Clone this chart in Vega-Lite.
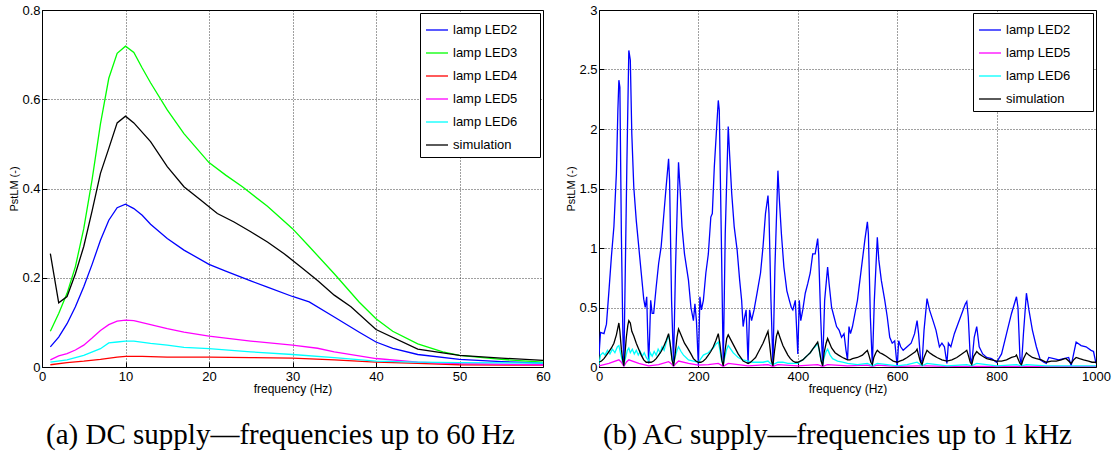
{
  "$schema": "https://vega.github.io/schema/vega-lite/v6.json",
  "background": "white",
  "padding": {"left": 8, "top": 3, "right": 6, "bottom": 2},
  "spacing": 56,
  "bounds": "flush",
  "config": {
    "view": {"stroke": "#000", "strokeWidth": 1},
    "axis": {"domain": false, "grid": true, "gridColor": "#000", "gridDash": [1, 2], "gridOpacity": 0.75, "tickColor": "#000", "tickSize": -5, "labelFont": "Liberation Sans", "labelFontSize": 13, "labelColor": "#000", "titleFont": "Liberation Sans", "titleFontWeight": "normal", "titleColor": "#000", "labelExpr": "'' + datum.value"},
    "axisX": {"labelPadding": 8, "titlePadding": 0, "titleFontSize": 12, "labelFlush": false},
    "axisY": {"labelPadding": 7, "titlePadding": 2, "titleFontSize": 11},
    "legend": {"orient": "top-right", "offset": 3, "strokeColor": "#000", "fillColor": "#fff", "padding": 5, "symbolType": "stroke", "symbolStrokeWidth": 1.5, "symbolSize": 484, "labelFont": "Liberation Sans", "labelFontSize": 13, "labelColor": "#000", "rowPadding": 4, "labelOffset": 4, "titleOrient": "right", "titleFontSize": 9, "titlePadding": 3, "titleOpacity": 0},
    "title": {"font": "Liberation Serif", "fontSize": 29, "fontWeight": "normal", "orient": "bottom", "offset": 27, "color": "#000"},
    "line": {"strokeWidth": 1.3}
  },
  "datasets": {
    "dc": [
      {"s": "lamp LED2", "f": 1, "v": 0.045}, {"s": "lamp LED2", "f": 2, "v": 0.067}, {"s": "lamp LED2", "f": 3, "v": 0.097}, {"s": "lamp LED2", "f": 4, "v": 0.135}, {"s": "lamp LED2", "f": 5, "v": 0.18}, {"s": "lamp LED2", "f": 6, "v": 0.23}, {"s": "lamp LED2", "f": 7, "v": 0.284}, {"s": "lamp LED2", "f": 8, "v": 0.329}, {"s": "lamp LED2", "f": 9, "v": 0.357}, {"s": "lamp LED2", "f": 10, "v": 0.365}, {"s": "lamp LED2", "f": 11, "v": 0.355}, {"s": "lamp LED2", "f": 12, "v": 0.34}, {"s": "lamp LED2", "f": 13, "v": 0.32}, {"s": "lamp LED2", "f": 15, "v": 0.288}, {"s": "lamp LED2", "f": 17, "v": 0.262}, {"s": "lamp LED2", "f": 20, "v": 0.23}, {"s": "lamp LED2", "f": 22, "v": 0.215}, {"s": "lamp LED2", "f": 25, "v": 0.193}, {"s": "lamp LED2", "f": 27, "v": 0.179}, {"s": "lamp LED2", "f": 30, "v": 0.158}, {"s": "lamp LED2", "f": 32, "v": 0.146}, {"s": "lamp LED2", "f": 35, "v": 0.112}, {"s": "lamp LED2", "f": 38, "v": 0.078}, {"s": "lamp LED2", "f": 40, "v": 0.056}, {"s": "lamp LED2", "f": 42, "v": 0.042}, {"s": "lamp LED2", "f": 45, "v": 0.028}, {"s": "lamp LED2", "f": 50, "v": 0.017}, {"s": "lamp LED2", "f": 55, "v": 0.012}, {"s": "lamp LED2", "f": 60, "v": 0.009},
      {"s": "lamp LED3", "f": 1, "v": 0.08}, {"s": "lamp LED3", "f": 2, "v": 0.12}, {"s": "lamp LED3", "f": 3, "v": 0.165}, {"s": "lamp LED3", "f": 4, "v": 0.225}, {"s": "lamp LED3", "f": 5, "v": 0.31}, {"s": "lamp LED3", "f": 6, "v": 0.42}, {"s": "lamp LED3", "f": 7, "v": 0.545}, {"s": "lamp LED3", "f": 8, "v": 0.647}, {"s": "lamp LED3", "f": 9, "v": 0.703}, {"s": "lamp LED3", "f": 10, "v": 0.719}, {"s": "lamp LED3", "f": 11, "v": 0.705}, {"s": "lamp LED3", "f": 12, "v": 0.67}, {"s": "lamp LED3", "f": 13, "v": 0.637}, {"s": "lamp LED3", "f": 15, "v": 0.576}, {"s": "lamp LED3", "f": 17, "v": 0.523}, {"s": "lamp LED3", "f": 20, "v": 0.458}, {"s": "lamp LED3", "f": 22, "v": 0.43}, {"s": "lamp LED3", "f": 24, "v": 0.404}, {"s": "lamp LED3", "f": 27, "v": 0.36}, {"s": "lamp LED3", "f": 30, "v": 0.31}, {"s": "lamp LED3", "f": 32, "v": 0.27}, {"s": "lamp LED3", "f": 35, "v": 0.209}, {"s": "lamp LED3", "f": 38, "v": 0.145}, {"s": "lamp LED3", "f": 40, "v": 0.108}, {"s": "lamp LED3", "f": 42, "v": 0.08}, {"s": "lamp LED3", "f": 45, "v": 0.052}, {"s": "lamp LED3", "f": 48, "v": 0.034}, {"s": "lamp LED3", "f": 50, "v": 0.026}, {"s": "lamp LED3", "f": 55, "v": 0.017}, {"s": "lamp LED3", "f": 60, "v": 0.011},
      {"s": "lamp LED4", "f": 1, "v": 0.005}, {"s": "lamp LED4", "f": 3, "v": 0.01}, {"s": "lamp LED4", "f": 5, "v": 0.013}, {"s": "lamp LED4", "f": 7, "v": 0.017}, {"s": "lamp LED4", "f": 9, "v": 0.022}, {"s": "lamp LED4", "f": 10, "v": 0.024}, {"s": "lamp LED4", "f": 12, "v": 0.024}, {"s": "lamp LED4", "f": 15, "v": 0.022}, {"s": "lamp LED4", "f": 20, "v": 0.022}, {"s": "lamp LED4", "f": 25, "v": 0.021}, {"s": "lamp LED4", "f": 30, "v": 0.02}, {"s": "lamp LED4", "f": 35, "v": 0.016}, {"s": "lamp LED4", "f": 40, "v": 0.011}, {"s": "lamp LED4", "f": 45, "v": 0.008}, {"s": "lamp LED4", "f": 50, "v": 0.005}, {"s": "lamp LED4", "f": 60, "v": 0.004},
      {"s": "lamp LED5", "f": 1, "v": 0.016}, {"s": "lamp LED5", "f": 2, "v": 0.025}, {"s": "lamp LED5", "f": 3, "v": 0.03}, {"s": "lamp LED5", "f": 4, "v": 0.038}, {"s": "lamp LED5", "f": 5, "v": 0.049}, {"s": "lamp LED5", "f": 6, "v": 0.065}, {"s": "lamp LED5", "f": 7, "v": 0.082}, {"s": "lamp LED5", "f": 8, "v": 0.095}, {"s": "lamp LED5", "f": 9, "v": 0.103}, {"s": "lamp LED5", "f": 10, "v": 0.105}, {"s": "lamp LED5", "f": 11, "v": 0.104}, {"s": "lamp LED5", "f": 13, "v": 0.095}, {"s": "lamp LED5", "f": 15, "v": 0.086}, {"s": "lamp LED5", "f": 17, "v": 0.078}, {"s": "lamp LED5", "f": 20, "v": 0.069}, {"s": "lamp LED5", "f": 25, "v": 0.058}, {"s": "lamp LED5", "f": 30, "v": 0.049}, {"s": "lamp LED5", "f": 33, "v": 0.042}, {"s": "lamp LED5", "f": 35, "v": 0.034}, {"s": "lamp LED5", "f": 40, "v": 0.019}, {"s": "lamp LED5", "f": 45, "v": 0.011}, {"s": "lamp LED5", "f": 50, "v": 0.0075}, {"s": "lamp LED5", "f": 60, "v": 0.005},
      {"s": "lamp LED6", "f": 1, "v": 0.011}, {"s": "lamp LED6", "f": 3, "v": 0.016}, {"s": "lamp LED6", "f": 5, "v": 0.026}, {"s": "lamp LED6", "f": 7, "v": 0.041}, {"s": "lamp LED6", "f": 8, "v": 0.054}, {"s": "lamp LED6", "f": 9, "v": 0.056}, {"s": "lamp LED6", "f": 10, "v": 0.058}, {"s": "lamp LED6", "f": 11, "v": 0.058}, {"s": "lamp LED6", "f": 13, "v": 0.053}, {"s": "lamp LED6", "f": 15, "v": 0.049}, {"s": "lamp LED6", "f": 17, "v": 0.044}, {"s": "lamp LED6", "f": 20, "v": 0.041}, {"s": "lamp LED6", "f": 25, "v": 0.034}, {"s": "lamp LED6", "f": 30, "v": 0.028}, {"s": "lamp LED6", "f": 35, "v": 0.021}, {"s": "lamp LED6", "f": 40, "v": 0.013}, {"s": "lamp LED6", "f": 45, "v": 0.011}, {"s": "lamp LED6", "f": 50, "v": 0.01}, {"s": "lamp LED6", "f": 60, "v": 0.009},
      {"s": "simulation", "f": 1, "v": 0.254}, {"s": "simulation", "f": 2, "v": 0.144}, {"s": "simulation", "f": 3, "v": 0.158}, {"s": "simulation", "f": 4, "v": 0.209}, {"s": "simulation", "f": 5, "v": 0.27}, {"s": "simulation", "f": 6, "v": 0.35}, {"s": "simulation", "f": 7, "v": 0.434}, {"s": "simulation", "f": 8, "v": 0.49}, {"s": "simulation", "f": 9, "v": 0.547}, {"s": "simulation", "f": 10, "v": 0.562}, {"s": "simulation", "f": 11, "v": 0.547}, {"s": "simulation", "f": 13, "v": 0.505}, {"s": "simulation", "f": 15, "v": 0.449}, {"s": "simulation", "f": 17, "v": 0.404}, {"s": "simulation", "f": 19, "v": 0.374}, {"s": "simulation", "f": 21, "v": 0.344}, {"s": "simulation", "f": 23, "v": 0.325}, {"s": "simulation", "f": 25, "v": 0.303}, {"s": "simulation", "f": 27, "v": 0.28}, {"s": "simulation", "f": 29, "v": 0.254}, {"s": "simulation", "f": 31, "v": 0.224}, {"s": "simulation", "f": 33, "v": 0.194}, {"s": "simulation", "f": 35, "v": 0.161}, {"s": "simulation", "f": 37, "v": 0.135}, {"s": "simulation", "f": 40, "v": 0.084}, {"s": "simulation", "f": 45, "v": 0.04}, {"s": "simulation", "f": 50, "v": 0.026}, {"s": "simulation", "f": 55, "v": 0.02}, {"s": "simulation", "f": 60, "v": 0.015}
    ],
    "ac": [
      {"s": "lamp LED2", "f": 0, "v": 0.1}, {"s": "lamp LED2", "f": 3, "v": 0.29}, {"s": "lamp LED2", "f": 10, "v": 0.28}, {"s": "lamp LED2", "f": 15, "v": 0.36}, {"s": "lamp LED2", "f": 20, "v": 0.64}, {"s": "lamp LED2", "f": 25, "v": 0.93}, {"s": "lamp LED2", "f": 30, "v": 1.18}, {"s": "lamp LED2", "f": 35, "v": 1.63}, {"s": "lamp LED2", "f": 38, "v": 2.16}, {"s": "lamp LED2", "f": 40, "v": 2.41}, {"s": "lamp LED2", "f": 42, "v": 2.35}, {"s": "lamp LED2", "f": 45, "v": 1.12}, {"s": "lamp LED2", "f": 48, "v": 0.28}, {"s": "lamp LED2", "f": 50, "v": 0.03}, {"s": "lamp LED2", "f": 52, "v": 0.56}, {"s": "lamp LED2", "f": 56, "v": 1.68}, {"s": "lamp LED2", "f": 60, "v": 2.66}, {"s": "lamp LED2", "f": 63, "v": 2.58}, {"s": "lamp LED2", "f": 66, "v": 1.96}, {"s": "lamp LED2", "f": 70, "v": 1.51}, {"s": "lamp LED2", "f": 75, "v": 1.23}, {"s": "lamp LED2", "f": 80, "v": 1.01}, {"s": "lamp LED2", "f": 85, "v": 0.79}, {"s": "lamp LED2", "f": 90, "v": 0.57}, {"s": "lamp LED2", "f": 93, "v": 0.5}, {"s": "lamp LED2", "f": 96, "v": 0.59}, {"s": "lamp LED2", "f": 98, "v": 0.28}, {"s": "lamp LED2", "f": 100, "v": 0.03}, {"s": "lamp LED2", "f": 102, "v": 0.28}, {"s": "lamp LED2", "f": 104, "v": 0.56}, {"s": "lamp LED2", "f": 107, "v": 0.45}, {"s": "lamp LED2", "f": 110, "v": 0.45}, {"s": "lamp LED2", "f": 115, "v": 0.67}, {"s": "lamp LED2", "f": 120, "v": 0.87}, {"s": "lamp LED2", "f": 125, "v": 1.01}, {"s": "lamp LED2", "f": 130, "v": 1.26}, {"s": "lamp LED2", "f": 135, "v": 1.51}, {"s": "lamp LED2", "f": 140, "v": 1.75}, {"s": "lamp LED2", "f": 142, "v": 1.57}, {"s": "lamp LED2", "f": 146, "v": 0.56}, {"s": "lamp LED2", "f": 150, "v": 0.03}, {"s": "lamp LED2", "f": 154, "v": 0.84}, {"s": "lamp LED2", "f": 160, "v": 1.72}, {"s": "lamp LED2", "f": 163, "v": 1.51}, {"s": "lamp LED2", "f": 167, "v": 1.18}, {"s": "lamp LED2", "f": 172, "v": 0.95}, {"s": "lamp LED2", "f": 180, "v": 0.73}, {"s": "lamp LED2", "f": 185, "v": 0.5}, {"s": "lamp LED2", "f": 190, "v": 0.39}, {"s": "lamp LED2", "f": 193, "v": 0.53}, {"s": "lamp LED2", "f": 196, "v": 0.39}, {"s": "lamp LED2", "f": 200, "v": 0.01}, {"s": "lamp LED2", "f": 203, "v": 0.59}, {"s": "lamp LED2", "f": 206, "v": 0.48}, {"s": "lamp LED2", "f": 210, "v": 0.56}, {"s": "lamp LED2", "f": 215, "v": 0.79}, {"s": "lamp LED2", "f": 220, "v": 0.95}, {"s": "lamp LED2", "f": 225, "v": 1.26}, {"s": "lamp LED2", "f": 228, "v": 1.29}, {"s": "lamp LED2", "f": 232, "v": 1.68}, {"s": "lamp LED2", "f": 236, "v": 1.96}, {"s": "lamp LED2", "f": 240, "v": 2.24}, {"s": "lamp LED2", "f": 242, "v": 2.16}, {"s": "lamp LED2", "f": 246, "v": 1.12}, {"s": "lamp LED2", "f": 250, "v": 0.01}, {"s": "lamp LED2", "f": 254, "v": 1.12}, {"s": "lamp LED2", "f": 260, "v": 2.02}, {"s": "lamp LED2", "f": 263, "v": 1.77}, {"s": "lamp LED2", "f": 267, "v": 1.46}, {"s": "lamp LED2", "f": 272, "v": 1.18}, {"s": "lamp LED2", "f": 278, "v": 0.98}, {"s": "lamp LED2", "f": 283, "v": 0.73}, {"s": "lamp LED2", "f": 287, "v": 0.56}, {"s": "lamp LED2", "f": 290, "v": 0.34}, {"s": "lamp LED2", "f": 293, "v": 0.42}, {"s": "lamp LED2", "f": 296, "v": 0.48}, {"s": "lamp LED2", "f": 300, "v": 0.03}, {"s": "lamp LED2", "f": 303, "v": 0.48}, {"s": "lamp LED2", "f": 307, "v": 0.39}, {"s": "lamp LED2", "f": 312, "v": 0.48}, {"s": "lamp LED2", "f": 318, "v": 0.62}, {"s": "lamp LED2", "f": 325, "v": 0.79}, {"s": "lamp LED2", "f": 330, "v": 1.01}, {"s": "lamp LED2", "f": 335, "v": 1.29}, {"s": "lamp LED2", "f": 340, "v": 1.44}, {"s": "lamp LED2", "f": 342, "v": 1.29}, {"s": "lamp LED2", "f": 346, "v": 0.56}, {"s": "lamp LED2", "f": 350, "v": 0.01}, {"s": "lamp LED2", "f": 354, "v": 0.84}, {"s": "lamp LED2", "f": 360, "v": 1.65}, {"s": "lamp LED2", "f": 363, "v": 1.4}, {"s": "lamp LED2", "f": 367, "v": 1.12}, {"s": "lamp LED2", "f": 372, "v": 0.84}, {"s": "lamp LED2", "f": 378, "v": 0.64}, {"s": "lamp LED2", "f": 383, "v": 0.56}, {"s": "lamp LED2", "f": 387, "v": 0.5}, {"s": "lamp LED2", "f": 390, "v": 0.48}, {"s": "lamp LED2", "f": 395, "v": 0.56}, {"s": "lamp LED2", "f": 400, "v": 0.11}, {"s": "lamp LED2", "f": 403, "v": 0.56}, {"s": "lamp LED2", "f": 406, "v": 0.39}, {"s": "lamp LED2", "f": 410, "v": 0.48}, {"s": "lamp LED2", "f": 415, "v": 0.62}, {"s": "lamp LED2", "f": 420, "v": 0.7}, {"s": "lamp LED2", "f": 425, "v": 0.79}, {"s": "lamp LED2", "f": 430, "v": 0.95}, {"s": "lamp LED2", "f": 435, "v": 0.95}, {"s": "lamp LED2", "f": 440, "v": 1.08}, {"s": "lamp LED2", "f": 442, "v": 0.95}, {"s": "lamp LED2", "f": 446, "v": 0.42}, {"s": "lamp LED2", "f": 450, "v": 0.01}, {"s": "lamp LED2", "f": 454, "v": 0.56}, {"s": "lamp LED2", "f": 460, "v": 0.84}, {"s": "lamp LED2", "f": 463, "v": 0.7}, {"s": "lamp LED2", "f": 468, "v": 0.5}, {"s": "lamp LED2", "f": 473, "v": 0.42}, {"s": "lamp LED2", "f": 478, "v": 0.34}, {"s": "lamp LED2", "f": 483, "v": 0.31}, {"s": "lamp LED2", "f": 488, "v": 0.25}, {"s": "lamp LED2", "f": 493, "v": 0.28}, {"s": "lamp LED2", "f": 497, "v": 0.14}, {"s": "lamp LED2", "f": 500, "v": 0.06}, {"s": "lamp LED2", "f": 503, "v": 0.34}, {"s": "lamp LED2", "f": 506, "v": 0.28}, {"s": "lamp LED2", "f": 510, "v": 0.34}, {"s": "lamp LED2", "f": 515, "v": 0.45}, {"s": "lamp LED2", "f": 520, "v": 0.56}, {"s": "lamp LED2", "f": 525, "v": 0.73}, {"s": "lamp LED2", "f": 530, "v": 0.9}, {"s": "lamp LED2", "f": 535, "v": 1.07}, {"s": "lamp LED2", "f": 540, "v": 1.22}, {"s": "lamp LED2", "f": 542, "v": 1.12}, {"s": "lamp LED2", "f": 546, "v": 0.42}, {"s": "lamp LED2", "f": 550, "v": 0.01}, {"s": "lamp LED2", "f": 554, "v": 0.56}, {"s": "lamp LED2", "f": 560, "v": 1.09}, {"s": "lamp LED2", "f": 563, "v": 0.9}, {"s": "lamp LED2", "f": 568, "v": 0.73}, {"s": "lamp LED2", "f": 575, "v": 0.56}, {"s": "lamp LED2", "f": 580, "v": 0.42}, {"s": "lamp LED2", "f": 585, "v": 0.25}, {"s": "lamp LED2", "f": 590, "v": 0.2}, {"s": "lamp LED2", "f": 595, "v": 0.22}, {"s": "lamp LED2", "f": 600, "v": 0.0}, {"s": "lamp LED2", "f": 603, "v": 0.22}, {"s": "lamp LED2", "f": 607, "v": 0.17}, {"s": "lamp LED2", "f": 612, "v": 0.14}, {"s": "lamp LED2", "f": 620, "v": 0.17}, {"s": "lamp LED2", "f": 628, "v": 0.2}, {"s": "lamp LED2", "f": 635, "v": 0.28}, {"s": "lamp LED2", "f": 640, "v": 0.39}, {"s": "lamp LED2", "f": 643, "v": 0.28}, {"s": "lamp LED2", "f": 647, "v": 0.06}, {"s": "lamp LED2", "f": 650, "v": 0.03}, {"s": "lamp LED2", "f": 654, "v": 0.31}, {"s": "lamp LED2", "f": 660, "v": 0.575}, {"s": "lamp LED2", "f": 665, "v": 0.48}, {"s": "lamp LED2", "f": 672, "v": 0.39}, {"s": "lamp LED2", "f": 678, "v": 0.31}, {"s": "lamp LED2", "f": 685, "v": 0.17}, {"s": "lamp LED2", "f": 690, "v": 0.2}, {"s": "lamp LED2", "f": 695, "v": 0.17}, {"s": "lamp LED2", "f": 700, "v": 0.03}, {"s": "lamp LED2", "f": 703, "v": 0.2}, {"s": "lamp LED2", "f": 708, "v": 0.17}, {"s": "lamp LED2", "f": 715, "v": 0.28}, {"s": "lamp LED2", "f": 722, "v": 0.36}, {"s": "lamp LED2", "f": 730, "v": 0.45}, {"s": "lamp LED2", "f": 737, "v": 0.53}, {"s": "lamp LED2", "f": 740, "v": 0.55}, {"s": "lamp LED2", "f": 743, "v": 0.42}, {"s": "lamp LED2", "f": 747, "v": 0.08}, {"s": "lamp LED2", "f": 750, "v": 0.03}, {"s": "lamp LED2", "f": 755, "v": 0.25}, {"s": "lamp LED2", "f": 760, "v": 0.34}, {"s": "lamp LED2", "f": 765, "v": 0.17}, {"s": "lamp LED2", "f": 772, "v": 0.11}, {"s": "lamp LED2", "f": 780, "v": 0.08}, {"s": "lamp LED2", "f": 790, "v": 0.07}, {"s": "lamp LED2", "f": 800, "v": 0.04}, {"s": "lamp LED2", "f": 810, "v": 0.11}, {"s": "lamp LED2", "f": 820, "v": 0.28}, {"s": "lamp LED2", "f": 830, "v": 0.45}, {"s": "lamp LED2", "f": 840, "v": 0.59}, {"s": "lamp LED2", "f": 843, "v": 0.5}, {"s": "lamp LED2", "f": 847, "v": 0.08}, {"s": "lamp LED2", "f": 850, "v": 0.01}, {"s": "lamp LED2", "f": 854, "v": 0.28}, {"s": "lamp LED2", "f": 860, "v": 0.62}, {"s": "lamp LED2", "f": 865, "v": 0.48}, {"s": "lamp LED2", "f": 872, "v": 0.31}, {"s": "lamp LED2", "f": 880, "v": 0.17}, {"s": "lamp LED2", "f": 888, "v": 0.06}, {"s": "lamp LED2", "f": 895, "v": 0.04}, {"s": "lamp LED2", "f": 900, "v": 0.03}, {"s": "lamp LED2", "f": 905, "v": 0.08}, {"s": "lamp LED2", "f": 915, "v": 0.07}, {"s": "lamp LED2", "f": 925, "v": 0.06}, {"s": "lamp LED2", "f": 935, "v": 0.07}, {"s": "lamp LED2", "f": 945, "v": 0.08}, {"s": "lamp LED2", "f": 950, "v": 0.01}, {"s": "lamp LED2", "f": 955, "v": 0.11}, {"s": "lamp LED2", "f": 960, "v": 0.21}, {"s": "lamp LED2", "f": 970, "v": 0.18}, {"s": "lamp LED2", "f": 980, "v": 0.17}, {"s": "lamp LED2", "f": 990, "v": 0.14}, {"s": "lamp LED2", "f": 995, "v": 0.13}, {"s": "lamp LED2", "f": 1000, "v": 0.03},
      {"s": "lamp LED5", "f": 0, "v": 0.01}, {"s": "lamp LED5", "f": 20, "v": 0.03}, {"s": "lamp LED5", "f": 40, "v": 0.06}, {"s": "lamp LED5", "f": 45, "v": 0.04}, {"s": "lamp LED5", "f": 50, "v": 0.005}, {"s": "lamp LED5", "f": 55, "v": 0.04}, {"s": "lamp LED5", "f": 60, "v": 0.06}, {"s": "lamp LED5", "f": 80, "v": 0.03}, {"s": "lamp LED5", "f": 100, "v": 0.01}, {"s": "lamp LED5", "f": 120, "v": 0.02}, {"s": "lamp LED5", "f": 140, "v": 0.045}, {"s": "lamp LED5", "f": 145, "v": 0.03}, {"s": "lamp LED5", "f": 150, "v": 0.005}, {"s": "lamp LED5", "f": 155, "v": 0.03}, {"s": "lamp LED5", "f": 160, "v": 0.05}, {"s": "lamp LED5", "f": 180, "v": 0.03}, {"s": "lamp LED5", "f": 200, "v": 0.015}, {"s": "lamp LED5", "f": 220, "v": 0.02}, {"s": "lamp LED5", "f": 240, "v": 0.03}, {"s": "lamp LED5", "f": 250, "v": 0.005}, {"s": "lamp LED5", "f": 260, "v": 0.03}, {"s": "lamp LED5", "f": 280, "v": 0.02}, {"s": "lamp LED5", "f": 300, "v": 0.01}, {"s": "lamp LED5", "f": 340, "v": 0.02}, {"s": "lamp LED5", "f": 350, "v": 0.005}, {"s": "lamp LED5", "f": 360, "v": 0.02}, {"s": "lamp LED5", "f": 400, "v": 0.01}, {"s": "lamp LED5", "f": 440, "v": 0.02}, {"s": "lamp LED5", "f": 450, "v": 0.005}, {"s": "lamp LED5", "f": 460, "v": 0.02}, {"s": "lamp LED5", "f": 500, "v": 0.01}, {"s": "lamp LED5", "f": 540, "v": 0.015}, {"s": "lamp LED5", "f": 550, "v": 0.005}, {"s": "lamp LED5", "f": 560, "v": 0.015}, {"s": "lamp LED5", "f": 600, "v": 0.005}, {"s": "lamp LED5", "f": 640, "v": 0.01}, {"s": "lamp LED5", "f": 660, "v": 0.01}, {"s": "lamp LED5", "f": 700, "v": 0.005}, {"s": "lamp LED5", "f": 1000, "v": 0.005},
      {"s": "lamp LED6", "f": 0, "v": 0.02}, {"s": "lamp LED6", "f": 3, "v": 0.1}, {"s": "lamp LED6", "f": 8, "v": 0.12}, {"s": "lamp LED6", "f": 12, "v": 0.1}, {"s": "lamp LED6", "f": 17, "v": 0.14}, {"s": "lamp LED6", "f": 22, "v": 0.11}, {"s": "lamp LED6", "f": 27, "v": 0.15}, {"s": "lamp LED6", "f": 32, "v": 0.12}, {"s": "lamp LED6", "f": 37, "v": 0.17}, {"s": "lamp LED6", "f": 40, "v": 0.18}, {"s": "lamp LED6", "f": 43, "v": 0.12}, {"s": "lamp LED6", "f": 47, "v": 0.05}, {"s": "lamp LED6", "f": 50, "v": 0.02}, {"s": "lamp LED6", "f": 53, "v": 0.07}, {"s": "lamp LED6", "f": 57, "v": 0.14}, {"s": "lamp LED6", "f": 60, "v": 0.16}, {"s": "lamp LED6", "f": 63, "v": 0.12}, {"s": "lamp LED6", "f": 67, "v": 0.15}, {"s": "lamp LED6", "f": 71, "v": 0.11}, {"s": "lamp LED6", "f": 75, "v": 0.14}, {"s": "lamp LED6", "f": 79, "v": 0.1}, {"s": "lamp LED6", "f": 83, "v": 0.13}, {"s": "lamp LED6", "f": 87, "v": 0.09}, {"s": "lamp LED6", "f": 91, "v": 0.12}, {"s": "lamp LED6", "f": 95, "v": 0.08}, {"s": "lamp LED6", "f": 100, "v": 0.05}, {"s": "lamp LED6", "f": 103, "v": 0.12}, {"s": "lamp LED6", "f": 107, "v": 0.09}, {"s": "lamp LED6", "f": 111, "v": 0.13}, {"s": "lamp LED6", "f": 115, "v": 0.1}, {"s": "lamp LED6", "f": 119, "v": 0.15}, {"s": "lamp LED6", "f": 123, "v": 0.12}, {"s": "lamp LED6", "f": 127, "v": 0.17}, {"s": "lamp LED6", "f": 131, "v": 0.14}, {"s": "lamp LED6", "f": 135, "v": 0.2}, {"s": "lamp LED6", "f": 140, "v": 0.27}, {"s": "lamp LED6", "f": 143, "v": 0.2}, {"s": "lamp LED6", "f": 147, "v": 0.06}, {"s": "lamp LED6", "f": 150, "v": 0.02}, {"s": "lamp LED6", "f": 153, "v": 0.08}, {"s": "lamp LED6", "f": 157, "v": 0.14}, {"s": "lamp LED6", "f": 160, "v": 0.17}, {"s": "lamp LED6", "f": 165, "v": 0.13}, {"s": "lamp LED6", "f": 170, "v": 0.1}, {"s": "lamp LED6", "f": 175, "v": 0.08}, {"s": "lamp LED6", "f": 180, "v": 0.06}, {"s": "lamp LED6", "f": 190, "v": 0.05}, {"s": "lamp LED6", "f": 200, "v": 0.04}, {"s": "lamp LED6", "f": 205, "v": 0.07}, {"s": "lamp LED6", "f": 210, "v": 0.1}, {"s": "lamp LED6", "f": 215, "v": 0.11}, {"s": "lamp LED6", "f": 220, "v": 0.12}, {"s": "lamp LED6", "f": 225, "v": 0.14}, {"s": "lamp LED6", "f": 230, "v": 0.16}, {"s": "lamp LED6", "f": 235, "v": 0.19}, {"s": "lamp LED6", "f": 240, "v": 0.21}, {"s": "lamp LED6", "f": 243, "v": 0.15}, {"s": "lamp LED6", "f": 247, "v": 0.05}, {"s": "lamp LED6", "f": 250, "v": 0.02}, {"s": "lamp LED6", "f": 253, "v": 0.08}, {"s": "lamp LED6", "f": 257, "v": 0.15}, {"s": "lamp LED6", "f": 260, "v": 0.18}, {"s": "lamp LED6", "f": 265, "v": 0.15}, {"s": "lamp LED6", "f": 270, "v": 0.12}, {"s": "lamp LED6", "f": 275, "v": 0.1}, {"s": "lamp LED6", "f": 280, "v": 0.08}, {"s": "lamp LED6", "f": 290, "v": 0.06}, {"s": "lamp LED6", "f": 300, "v": 0.05}, {"s": "lamp LED6", "f": 310, "v": 0.04}, {"s": "lamp LED6", "f": 320, "v": 0.04}, {"s": "lamp LED6", "f": 330, "v": 0.04}, {"s": "lamp LED6", "f": 340, "v": 0.05}, {"s": "lamp LED6", "f": 345, "v": 0.03}, {"s": "lamp LED6", "f": 350, "v": 0.02}, {"s": "lamp LED6", "f": 355, "v": 0.03}, {"s": "lamp LED6", "f": 360, "v": 0.04}, {"s": "lamp LED6", "f": 370, "v": 0.04}, {"s": "lamp LED6", "f": 380, "v": 0.03}, {"s": "lamp LED6", "f": 390, "v": 0.03}, {"s": "lamp LED6", "f": 400, "v": 0.03}, {"s": "lamp LED6", "f": 405, "v": 0.05}, {"s": "lamp LED6", "f": 410, "v": 0.06}, {"s": "lamp LED6", "f": 415, "v": 0.08}, {"s": "lamp LED6", "f": 420, "v": 0.1}, {"s": "lamp LED6", "f": 425, "v": 0.12}, {"s": "lamp LED6", "f": 430, "v": 0.15}, {"s": "lamp LED6", "f": 435, "v": 0.17}, {"s": "lamp LED6", "f": 440, "v": 0.2}, {"s": "lamp LED6", "f": 443, "v": 0.14}, {"s": "lamp LED6", "f": 447, "v": 0.05}, {"s": "lamp LED6", "f": 450, "v": 0.02}, {"s": "lamp LED6", "f": 453, "v": 0.08}, {"s": "lamp LED6", "f": 457, "v": 0.13}, {"s": "lamp LED6", "f": 460, "v": 0.15}, {"s": "lamp LED6", "f": 465, "v": 0.1}, {"s": "lamp LED6", "f": 470, "v": 0.07}, {"s": "lamp LED6", "f": 480, "v": 0.05}, {"s": "lamp LED6", "f": 490, "v": 0.04}, {"s": "lamp LED6", "f": 500, "v": 0.03}, {"s": "lamp LED6", "f": 520, "v": 0.02}, {"s": "lamp LED6", "f": 540, "v": 0.03}, {"s": "lamp LED6", "f": 550, "v": 0.01}, {"s": "lamp LED6", "f": 560, "v": 0.03}, {"s": "lamp LED6", "f": 580, "v": 0.02}, {"s": "lamp LED6", "f": 600, "v": 0.01}, {"s": "lamp LED6", "f": 620, "v": 0.02}, {"s": "lamp LED6", "f": 640, "v": 0.04}, {"s": "lamp LED6", "f": 650, "v": 0.01}, {"s": "lamp LED6", "f": 660, "v": 0.03}, {"s": "lamp LED6", "f": 680, "v": 0.02}, {"s": "lamp LED6", "f": 700, "v": 0.01}, {"s": "lamp LED6", "f": 740, "v": 0.02}, {"s": "lamp LED6", "f": 750, "v": 0.01}, {"s": "lamp LED6", "f": 760, "v": 0.03}, {"s": "lamp LED6", "f": 800, "v": 0.01}, {"s": "lamp LED6", "f": 840, "v": 0.02}, {"s": "lamp LED6", "f": 850, "v": 0.01}, {"s": "lamp LED6", "f": 860, "v": 0.02}, {"s": "lamp LED6", "f": 900, "v": 0.01}, {"s": "lamp LED6", "f": 940, "v": 0.01}, {"s": "lamp LED6", "f": 960, "v": 0.01}, {"s": "lamp LED6", "f": 1000, "v": 0.01},
      {"s": "simulation", "f": 0, "v": 0.04}, {"s": "simulation", "f": 5, "v": 0.05}, {"s": "simulation", "f": 10, "v": 0.07}, {"s": "simulation", "f": 15, "v": 0.1}, {"s": "simulation", "f": 20, "v": 0.13}, {"s": "simulation", "f": 25, "v": 0.16}, {"s": "simulation", "f": 30, "v": 0.2}, {"s": "simulation", "f": 35, "v": 0.27}, {"s": "simulation", "f": 38, "v": 0.33}, {"s": "simulation", "f": 40, "v": 0.37}, {"s": "simulation", "f": 42, "v": 0.3}, {"s": "simulation", "f": 45, "v": 0.15}, {"s": "simulation", "f": 48, "v": 0.05}, {"s": "simulation", "f": 50, "v": 0.01}, {"s": "simulation", "f": 52, "v": 0.1}, {"s": "simulation", "f": 55, "v": 0.25}, {"s": "simulation", "f": 58, "v": 0.35}, {"s": "simulation", "f": 60, "v": 0.39}, {"s": "simulation", "f": 63, "v": 0.37}, {"s": "simulation", "f": 66, "v": 0.3}, {"s": "simulation", "f": 70, "v": 0.26}, {"s": "simulation", "f": 75, "v": 0.2}, {"s": "simulation", "f": 80, "v": 0.15}, {"s": "simulation", "f": 85, "v": 0.1}, {"s": "simulation", "f": 90, "v": 0.06}, {"s": "simulation", "f": 95, "v": 0.04}, {"s": "simulation", "f": 100, "v": 0.04}, {"s": "simulation", "f": 105, "v": 0.04}, {"s": "simulation", "f": 110, "v": 0.05}, {"s": "simulation", "f": 115, "v": 0.07}, {"s": "simulation", "f": 120, "v": 0.1}, {"s": "simulation", "f": 125, "v": 0.13}, {"s": "simulation", "f": 130, "v": 0.17}, {"s": "simulation", "f": 135, "v": 0.22}, {"s": "simulation", "f": 140, "v": 0.28}, {"s": "simulation", "f": 143, "v": 0.2}, {"s": "simulation", "f": 147, "v": 0.06}, {"s": "simulation", "f": 150, "v": 0.01}, {"s": "simulation", "f": 153, "v": 0.1}, {"s": "simulation", "f": 157, "v": 0.25}, {"s": "simulation", "f": 160, "v": 0.32}, {"s": "simulation", "f": 163, "v": 0.29}, {"s": "simulation", "f": 167, "v": 0.25}, {"s": "simulation", "f": 172, "v": 0.2}, {"s": "simulation", "f": 178, "v": 0.16}, {"s": "simulation", "f": 185, "v": 0.11}, {"s": "simulation", "f": 190, "v": 0.07}, {"s": "simulation", "f": 195, "v": 0.05}, {"s": "simulation", "f": 200, "v": 0.04}, {"s": "simulation", "f": 205, "v": 0.04}, {"s": "simulation", "f": 210, "v": 0.05}, {"s": "simulation", "f": 215, "v": 0.07}, {"s": "simulation", "f": 220, "v": 0.1}, {"s": "simulation", "f": 225, "v": 0.13}, {"s": "simulation", "f": 230, "v": 0.17}, {"s": "simulation", "f": 235, "v": 0.22}, {"s": "simulation", "f": 240, "v": 0.28}, {"s": "simulation", "f": 243, "v": 0.2}, {"s": "simulation", "f": 247, "v": 0.06}, {"s": "simulation", "f": 250, "v": 0.01}, {"s": "simulation", "f": 253, "v": 0.12}, {"s": "simulation", "f": 257, "v": 0.24}, {"s": "simulation", "f": 260, "v": 0.27}, {"s": "simulation", "f": 265, "v": 0.23}, {"s": "simulation", "f": 270, "v": 0.19}, {"s": "simulation", "f": 275, "v": 0.15}, {"s": "simulation", "f": 280, "v": 0.11}, {"s": "simulation", "f": 285, "v": 0.08}, {"s": "simulation", "f": 290, "v": 0.05}, {"s": "simulation", "f": 295, "v": 0.04}, {"s": "simulation", "f": 300, "v": 0.03}, {"s": "simulation", "f": 305, "v": 0.04}, {"s": "simulation", "f": 310, "v": 0.06}, {"s": "simulation", "f": 315, "v": 0.08}, {"s": "simulation", "f": 320, "v": 0.12}, {"s": "simulation", "f": 325, "v": 0.16}, {"s": "simulation", "f": 330, "v": 0.2}, {"s": "simulation", "f": 335, "v": 0.25}, {"s": "simulation", "f": 340, "v": 0.3}, {"s": "simulation", "f": 343, "v": 0.2}, {"s": "simulation", "f": 347, "v": 0.05}, {"s": "simulation", "f": 350, "v": 0.01}, {"s": "simulation", "f": 353, "v": 0.13}, {"s": "simulation", "f": 357, "v": 0.26}, {"s": "simulation", "f": 360, "v": 0.3}, {"s": "simulation", "f": 364, "v": 0.25}, {"s": "simulation", "f": 370, "v": 0.18}, {"s": "simulation", "f": 375, "v": 0.14}, {"s": "simulation", "f": 380, "v": 0.1}, {"s": "simulation", "f": 385, "v": 0.07}, {"s": "simulation", "f": 390, "v": 0.05}, {"s": "simulation", "f": 395, "v": 0.04}, {"s": "simulation", "f": 400, "v": 0.04}, {"s": "simulation", "f": 405, "v": 0.05}, {"s": "simulation", "f": 410, "v": 0.06}, {"s": "simulation", "f": 415, "v": 0.08}, {"s": "simulation", "f": 420, "v": 0.1}, {"s": "simulation", "f": 425, "v": 0.12}, {"s": "simulation", "f": 430, "v": 0.15}, {"s": "simulation", "f": 435, "v": 0.18}, {"s": "simulation", "f": 440, "v": 0.21}, {"s": "simulation", "f": 443, "v": 0.15}, {"s": "simulation", "f": 447, "v": 0.05}, {"s": "simulation", "f": 450, "v": 0.01}, {"s": "simulation", "f": 453, "v": 0.12}, {"s": "simulation", "f": 457, "v": 0.2}, {"s": "simulation", "f": 460, "v": 0.24}, {"s": "simulation", "f": 463, "v": 0.21}, {"s": "simulation", "f": 468, "v": 0.16}, {"s": "simulation", "f": 475, "v": 0.12}, {"s": "simulation", "f": 482, "v": 0.1}, {"s": "simulation", "f": 490, "v": 0.08}, {"s": "simulation", "f": 495, "v": 0.07}, {"s": "simulation", "f": 500, "v": 0.06}, {"s": "simulation", "f": 505, "v": 0.06}, {"s": "simulation", "f": 510, "v": 0.07}, {"s": "simulation", "f": 520, "v": 0.08}, {"s": "simulation", "f": 530, "v": 0.1}, {"s": "simulation", "f": 535, "v": 0.12}, {"s": "simulation", "f": 540, "v": 0.14}, {"s": "simulation", "f": 543, "v": 0.1}, {"s": "simulation", "f": 547, "v": 0.04}, {"s": "simulation", "f": 550, "v": 0.02}, {"s": "simulation", "f": 553, "v": 0.08}, {"s": "simulation", "f": 557, "v": 0.12}, {"s": "simulation", "f": 560, "v": 0.14}, {"s": "simulation", "f": 565, "v": 0.12}, {"s": "simulation", "f": 570, "v": 0.11}, {"s": "simulation", "f": 578, "v": 0.09}, {"s": "simulation", "f": 585, "v": 0.07}, {"s": "simulation", "f": 592, "v": 0.05}, {"s": "simulation", "f": 600, "v": 0.04}, {"s": "simulation", "f": 605, "v": 0.05}, {"s": "simulation", "f": 612, "v": 0.06}, {"s": "simulation", "f": 620, "v": 0.08}, {"s": "simulation", "f": 630, "v": 0.11}, {"s": "simulation", "f": 637, "v": 0.13}, {"s": "simulation", "f": 640, "v": 0.15}, {"s": "simulation", "f": 643, "v": 0.1}, {"s": "simulation", "f": 647, "v": 0.04}, {"s": "simulation", "f": 650, "v": 0.02}, {"s": "simulation", "f": 654, "v": 0.08}, {"s": "simulation", "f": 660, "v": 0.14}, {"s": "simulation", "f": 665, "v": 0.12}, {"s": "simulation", "f": 672, "v": 0.1}, {"s": "simulation", "f": 680, "v": 0.08}, {"s": "simulation", "f": 690, "v": 0.06}, {"s": "simulation", "f": 700, "v": 0.05}, {"s": "simulation", "f": 710, "v": 0.06}, {"s": "simulation", "f": 720, "v": 0.08}, {"s": "simulation", "f": 730, "v": 0.11}, {"s": "simulation", "f": 737, "v": 0.13}, {"s": "simulation", "f": 740, "v": 0.14}, {"s": "simulation", "f": 743, "v": 0.1}, {"s": "simulation", "f": 747, "v": 0.04}, {"s": "simulation", "f": 750, "v": 0.02}, {"s": "simulation", "f": 754, "v": 0.09}, {"s": "simulation", "f": 760, "v": 0.13}, {"s": "simulation", "f": 765, "v": 0.11}, {"s": "simulation", "f": 772, "v": 0.09}, {"s": "simulation", "f": 780, "v": 0.07}, {"s": "simulation", "f": 790, "v": 0.06}, {"s": "simulation", "f": 800, "v": 0.05}, {"s": "simulation", "f": 810, "v": 0.05}, {"s": "simulation", "f": 820, "v": 0.06}, {"s": "simulation", "f": 830, "v": 0.08}, {"s": "simulation", "f": 838, "v": 0.09}, {"s": "simulation", "f": 840, "v": 0.1}, {"s": "simulation", "f": 843, "v": 0.07}, {"s": "simulation", "f": 847, "v": 0.03}, {"s": "simulation", "f": 850, "v": 0.02}, {"s": "simulation", "f": 854, "v": 0.07}, {"s": "simulation", "f": 860, "v": 0.12}, {"s": "simulation", "f": 865, "v": 0.1}, {"s": "simulation", "f": 872, "v": 0.08}, {"s": "simulation", "f": 880, "v": 0.07}, {"s": "simulation", "f": 890, "v": 0.06}, {"s": "simulation", "f": 900, "v": 0.04}, {"s": "simulation", "f": 910, "v": 0.05}, {"s": "simulation", "f": 920, "v": 0.05}, {"s": "simulation", "f": 930, "v": 0.06}, {"s": "simulation", "f": 937, "v": 0.07}, {"s": "simulation", "f": 940, "v": 0.07}, {"s": "simulation", "f": 945, "v": 0.05}, {"s": "simulation", "f": 950, "v": 0.03}, {"s": "simulation", "f": 955, "v": 0.06}, {"s": "simulation", "f": 960, "v": 0.08}, {"s": "simulation", "f": 967, "v": 0.07}, {"s": "simulation", "f": 975, "v": 0.06}, {"s": "simulation", "f": 985, "v": 0.05}, {"s": "simulation", "f": 992, "v": 0.04}, {"s": "simulation", "f": 1000, "v": 0.04}
    ]
  },
  "hconcat": [
    {
      "width": 501, "height": 357,
      "title": {"text": "(a) DC supply\u2014frequencies up to 60\u2009Hz", "dx": -12},
      "data": {"name": "dc"},
      "mark": {"type": "line", "clip": true},
      "encoding": {
        "x": {"field": "f", "type": "quantitative", "scale": {"domain": [0, 60], "nice": false}, "axis": {"values": [0, 10, 20, 30, 40, 50, 60], "title": "frequency (Hz)"}},
        "y": {"field": "v", "type": "quantitative", "scale": {"domain": [0, 0.8], "nice": false}, "axis": {"values": [0, 0.2, 0.4, 0.6, 0.8], "title": "PstLM (-)"}},
        "color": {"field": "s", "type": "nominal", "scale": {"domain": ["lamp LED2", "lamp LED3", "lamp LED4", "lamp LED5", "lamp LED6", "simulation"], "range": ["#0000ff", "#00ff00", "#ff0000", "#ff00ff", "#00ffff", "#000000"]}, "legend": {"title": "MM"}}
      }
    },
    {
      "width": 497, "height": 357,
      "title": {"text": "(b) AC supply\u2014frequencies up to 1\u2009kHz", "dx": -10},
      "data": {"name": "ac"},
      "mark": {"type": "line", "clip": true},
      "encoding": {
        "x": {"field": "f", "type": "quantitative", "scale": {"domain": [0, 1000], "nice": false}, "axis": {"values": [0, 200, 400, 600, 800, 1000], "title": "frequency (Hz)"}},
        "y": {"field": "v", "type": "quantitative", "scale": {"domain": [0, 3], "nice": false}, "axis": {"values": [0, 0.5, 1, 1.5, 2, 2.5, 3], "title": "PstLM (-)"}},
        "color": {"field": "s", "type": "nominal", "scale": {"domain": ["lamp LED2", "lamp LED5", "lamp LED6", "simulation"], "range": ["#0000ff", "#ff00ff", "#00ffff", "#000000"]}, "legend": {"title": "MM"}}
      }
    }
  ],
  "resolve": {"scale": {"color": "independent"}, "legend": {"color": "independent"}}
}
